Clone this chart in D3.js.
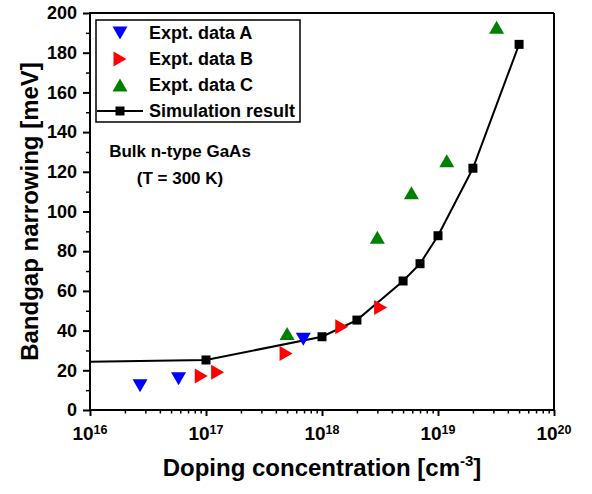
<!DOCTYPE html>
<html><head><meta charset="utf-8">
<script src="https://cdn.jsdelivr.net/npm/d3@7"></script>
<style>
html,body{margin:0;padding:0;background:#fff;}
svg text{font-family:"Liberation Sans",Arial,sans-serif;font-weight:bold;fill:#000;}
</style></head>
<body>
<svg id="chart" width="592" height="494"></svg>
<script>
// ---- data ----
const dataA_N = [2.7e16, 5.8e16, 6.9e17];
const dataA_BGN = [12.2, 15.8, 35.6];
const dataB_N = [9.1e16, 1.26e17, 4.9e17, 1.48e18, 3.2e18];
const dataB_BGN = [17.1, 19.0, 28.5, 42.0, 51.7];
const dataC_N = [5e17, 3e18, 5.9e18, 1.19e19, 3.2e19];
const dataC_BGN = [38.6, 87.0, 109.5, 125.6, 192.8];
const sim_N = [1e15, 1e17, 1e18, 2e18, 5e18, 7e18, 1e19, 2e19, 5e19];
const sim_BGN = [23.4, 25.2, 36.9, 45.3, 65.0, 73.7, 87.8, 121.8, 184.2];
const xTickExp = [16, 17, 18, 19, 20];
const yTicks = [0, 20, 40, 60, 80, 100, 120, 140, 160, 180, 200];
const legendLabels = ["Expt. data A", "Expt. data B", "Expt. data C", "Simulation result"];

// ---- layout ----
const svg = d3.select("#chart");
const L = 90, R = 554, T = 13, B = 410;
const x = d3.scaleLog().domain([1e16, 1e20]).range([L, R]);
const y = d3.scaleLinear().domain([0, 200]).range([B, T]);

const defs = svg.append("defs");
defs.append("clipPath").attr("id", "clip").append("rect")
  .attr("x", L).attr("y", T).attr("width", R - L).attr("height", B - T);

// marker shapes
const tri = {
  down: "M-7.5,-6.5L7.5,-6.5L0,6.5Z",
  up: "M-7.5,6.5L7.5,6.5L0,-6.5Z",
  right: "M-6.5,-7.5L-6.5,7.5L6.5,0Z"
};

// frame (top and right)
svg.append("line").attr("x1", L).attr("x2", R).attr("y1", T).attr("y2", T)
  .attr("stroke", "#000").attr("stroke-width", 2);
svg.append("line").attr("x1", R).attr("x2", R).attr("y1", T).attr("y2", B)
  .attr("stroke", "#000").attr("stroke-width", 2);

// x axis
const minorX = [];
for (let e = 16; e < 20; e++) for (let m = 2; m <= 9; m++) minorX.push(m * Math.pow(10, e));
const xAxisG = svg.append("g").attr("transform", `translate(0,${B})`);
xAxisG.call(d3.axisBottom(x).tickValues(minorX).tickSize(3.5).tickFormat(""))
  .call(g => g.select(".domain").remove())
  .call(g => g.selectAll("line").attr("stroke-width", 1.5));
xAxisG.append("g").call(d3.axisBottom(x).tickValues(xTickExp.map(e => Math.pow(10, e))).tickSize(6).tickFormat(""))
  .call(g => g.select(".domain").remove())
  .call(g => g.selectAll("line").attr("stroke-width", 2));
xAxisG.append("line").attr("x1", L - 1).attr("x2", R + 1).attr("stroke", "#000").attr("stroke-width", 2);
xTickExp.forEach(e => {
  const t = xAxisG.append("text").attr("x", x(Math.pow(10, e))).attr("y", 30)
    .attr("text-anchor", "middle").style("font-size", "19px");
  t.append("tspan").text("10");
  t.append("tspan").attr("dy", -6).style("font-size", "12.5px").text(String(e));
});

// y axis
const yAxisG = svg.append("g").attr("transform", `translate(${L},0)`);
yAxisG.call(d3.axisLeft(y).tickValues(d3.range(10, 200, 20)).tickSize(4).tickFormat(""))
  .call(g => g.select(".domain").remove())
  .call(g => g.selectAll("line").attr("stroke-width", 1.5));
yAxisG.append("g").call(d3.axisLeft(y).tickValues(yTicks).tickSize(7).tickPadding(6))
  .call(g => g.select(".domain").remove())
  .call(g => g.selectAll("line").attr("stroke-width", 2))
  .call(g => g.selectAll("text").style("font-size", "18px").style("font-family", "'Liberation Sans',Arial,sans-serif").style("font-weight", "bold").attr("fill", "#000"));
yAxisG.append("line").attr("y1", T - 1).attr("y2", B + 1).attr("stroke", "#000").attr("stroke-width", 2);

// axis titles
const xt = svg.append("text").attr("x", (L + R) / 2).attr("y", 476)
  .attr("text-anchor", "middle").style("font-size", "24px");
xt.append("tspan").text("Doping concentration [cm");
xt.append("tspan").attr("dy", -10).style("font-size", "15px").text("-3");
xt.append("tspan").attr("dy", 10).text("]");

svg.append("text").attr("transform", `translate(38,${(T + B) / 2}) rotate(-90)`)
  .attr("text-anchor", "middle").style("font-size", "24px").text("Bandgap narrowing [meV]");

// annotation
svg.append("text").attr("x", 180).attr("y", 157).attr("text-anchor", "middle")
  .style("font-size", "17px").text("Bulk n-type GaAs");
svg.append("text").attr("x", 180).attr("y", 184).attr("text-anchor", "middle")
  .style("font-size", "17px").text("(T = 300 K)");

// plot content
const plot = svg.append("g").attr("clip-path", "url(#clip)");
const simPts = sim_N.map((n, i) => [n, sim_BGN[i]]);
plot.append("path").datum(simPts)
  .attr("d", d3.line().x(d => x(d[0])).y(d => y(d[1])))
  .attr("fill", "none").attr("stroke", "#000").attr("stroke-width", 2);
plot.selectAll(".sq").data(simPts).join("rect")
  .attr("x", d => x(d[0]) - 4.5).attr("y", d => y(d[1]) - 4.5)
  .attr("width", 9).attr("height", 9).attr("fill", "#000");

function drawTri(Ns, Vs, shape, color) {
  plot.selectAll(null).data(Ns.map((n, i) => [n, Vs[i]])).join("path")
    .attr("d", tri[shape]).attr("fill", color)
    .attr("transform", d => `translate(${x(d[0])},${y(d[1])})`);
}
drawTri(dataC_N, dataC_BGN, "up", "#008000");
drawTri(dataB_N, dataB_BGN, "right", "#ff0000");
drawTri(dataA_N, dataA_BGN, "down", "#0000ff");

// legend
const lg = svg.append("g");
lg.append("rect").attr("x", 96).attr("y", 20).attr("width", 204).attr("height", 102)
  .attr("fill", "#fff").attr("stroke", "#000").attr("stroke-width", 1.5);
const rowY = [33, 59, 85, 111];
const lgShapes = [["down", "#0000ff"], ["right", "#ff0000"], ["up", "#008000"]];
lgShapes.forEach((s, i) => {
  lg.append("path").attr("d", tri[s[0]]).attr("fill", s[1])
    .attr("transform", `translate(120,${rowY[i]})`);
});
lg.append("line").attr("x1", 97).attr("x2", 143).attr("y1", rowY[3]).attr("y2", rowY[3])
  .attr("stroke", "#000").attr("stroke-width", 2);
lg.append("rect").attr("x", 115.5).attr("y", rowY[3] - 4.5).attr("width", 9).attr("height", 9).attr("fill", "#000");
legendLabels.forEach((t, i) => {
  lg.append("text").attr("x", 149).attr("y", rowY[i]).attr("dy", "0.35em")
    .style("font-size", "18px").text(t);
});
</script>
</body></html>
